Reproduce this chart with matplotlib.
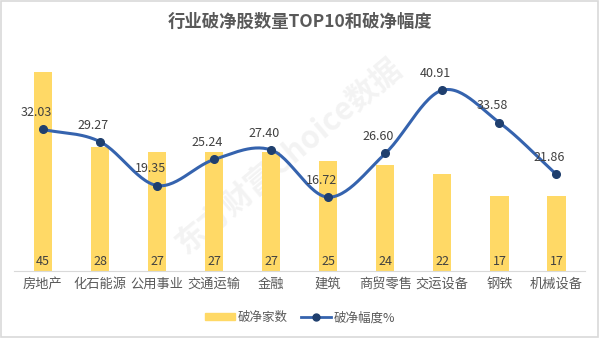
import matplotlib.pyplot as plt
import numpy as np
from matplotlib.patches import Rectangle
from matplotlib.lines import Line2D

plt.rcParams['font.family'] = ['Noto Sans CJK SC', 'DejaVu Sans']

industries = ['房地产', '化石能源', '公用事业', '交通运输', '金融',
              '建筑', '商贸零售', '交运设备', '钢铁', '机械设备']
pb_count = [45, 28, 27, 27, 27, 25, 24, 22, 17, 17]
pb_depth = [32.03, 29.27, 19.35, 25.24, 27.40, 16.72, 26.60, 40.91, 33.58, 21.86]

BAR_COLOR = '#FFD966'
LINE_COLOR = '#3563AE'
MARKER_COLOR = '#1F3F6E'
TEXT_COLOR = '#595959'


def smooth_curve(x, y, steps=30):
    # Catmull-Rom 样条，效果接近 Excel 的平滑线
    x = np.asarray(x, float)
    y = np.asarray(y, float)
    px = np.concatenate([[2 * x[0] - x[1]], x, [2 * x[-1] - x[-2]]])
    py = np.concatenate([[2 * y[0] - y[1]], y, [2 * y[-1] - y[-2]]])
    xs, ys = [], []
    t = np.linspace(0, 1, steps)
    for i in range(1, len(px) - 2):
        for p, out in ((px, xs), (py, ys)):
            p0, p1, p2, p3 = p[i - 1], p[i], p[i + 1], p[i + 2]
            out.extend(0.5 * ((2 * p1) + (-p0 + p2) * t
                              + (2 * p0 - 5 * p1 + 4 * p2 - p3) * t ** 2
                              + (-p0 + 3 * p1 - 3 * p2 + p3) * t ** 3))
    return np.array(xs), np.array(ys)


fig = plt.figure(figsize=(6, 3.38), dpi=100)
fig.patches.append(Rectangle((0.002, 0.003), 0.995, 0.993, transform=fig.transFigure,
                             fill=False, edgecolor='#D9D9D9', linewidth=1.2))
ax = fig.add_axes([0.024, 0.198, 0.951, 0.654])

x = np.arange(len(industries))
ax.bar(x, pb_count, width=0.32, color=BAR_COLOR, zorder=1)
for xi, v in zip(x, pb_count):
    ax.text(xi, 2.2, str(v), ha='center', va='center', fontsize=9, color='#404040', zorder=4)

sx, sy = smooth_curve(x, pb_depth)
ax.plot(sx, sy, color=LINE_COLOR, linewidth=2.2, zorder=2)
ax.plot(x, pb_depth, 'o', color=MARKER_COLOR, markersize=5.5, zorder=3)
for xi, v in zip(x, pb_depth):
    ax.text(xi - 0.12, v + 2.3, f'{v:.2f}', ha='center', va='bottom', fontsize=9,
            color='#404040', zorder=4)

# 水印
ax.text(4.3, 26, '东方财富Choice数据', rotation=40, fontsize=22, fontweight='bold',
        color='#BFBFBF', alpha=0.18, ha='center', va='center', zorder=0)

ax.set_xlim(-0.5, len(industries) - 0.5)
ax.set_ylim(0, 50)
ax.set_xticks(x)
ax.set_xticklabels(industries, fontsize=9.5, color=TEXT_COLOR)
ax.tick_params(axis='x', length=0, pad=5)
ax.set_yticks([])
for side in ['top', 'right', 'left']:
    ax.spines[side].set_visible(False)
ax.spines['bottom'].set_color('#D9D9D9')

fig.text(0.5, 0.935, '行业破净股数量TOP10和破净幅度', ha='center', va='center',
         fontsize=12.5, color=TEXT_COLOR, fontweight='bold')

handles = [Rectangle((0, 0), 1, 1, color=BAR_COLOR),
           Line2D([], [], color=LINE_COLOR, linewidth=2, marker='o',
                  markerfacecolor=MARKER_COLOR, markeredgecolor=MARKER_COLOR, markersize=5)]
fig.legend(handles, ['破净家数', '破净幅度%'], loc='center', bbox_to_anchor=(0.5, 0.06),
           ncol=2, frameon=False, fontsize=9, labelcolor=TEXT_COLOR,
           handlelength=2.4, handleheight=0.5, handletextpad=0.25, columnspacing=1.0)

fig.savefig('out.png', dpi=100)
